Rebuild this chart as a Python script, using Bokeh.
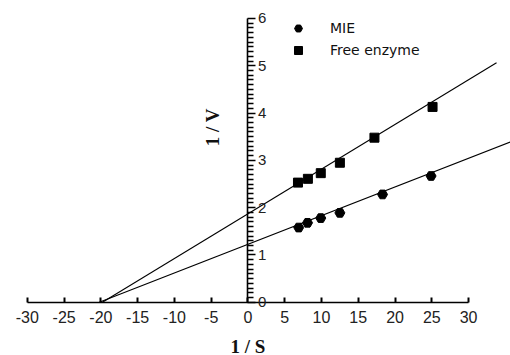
import math
from bokeh.plotting import figure
from bokeh.models import (Range1d, FixedTicker, Legend, LegendItem, Label,
                          LinearAxis)
from bokeh.embed import file_html
from bokeh.resources import INLINE

# ---- data ----
mie_x = [6.9, 8.1, 9.9, 12.5, 18.3, 24.9]
mie_y = [1.58, 1.68, 1.78, 1.89, 2.28, 2.67]
free_x = [6.8, 8.15, 9.9, 12.5, 17.2, 25.1]
free_y = [2.53, 2.61, 2.73, 2.95, 3.48, 4.13]

# linear fits (slope, intercept) and the right end of each fitted line
mie_fit = (0.0606, 1.225)
free_fit = (0.0945, 1.87)
mie_line_end = 35.7
free_line_end = 33.8

x_ticks = [-30, -25, -20, -15, -10, -5, 0, 5, 10, 15, 20, 25, 30]
x_tick_labels = ["-30", "-25", "-20", "-15", "-10", "-5", "0",
                 "5", "10", "15", "20", "25", "30"]
y_ticks = [0, 1, 2, 3, 4, 5, 6]
y_minor_ticks = [i / 10 for i in range(0, 61) if i % 10 != 0]


def fit_line(fit, x_end):
    m, b = fit
    x0 = -b / m
    return [x0, x_end], [m * x0 + b, m * x_end + b]


def tick_axis(ticks, tick_in, tick_out, width):
    ax = LinearAxis(fixed_location=0,
                    ticker=FixedTicker(ticks=ticks, minor_ticks=[]))
    ax.axis_line_alpha = 0
    ax.major_tick_in = tick_in
    ax.major_tick_out = tick_out
    ax.major_tick_line_width = width
    ax.major_tick_line_color = "black"
    ax.minor_tick_line_color = None
    ax.major_label_text_color = None
    return ax


p = figure(width=510, height=355, output_backend="svg", toolbar_location=None,
           x_range=Range1d(-33.65, 35.7), y_range=Range1d(-1.125, 6.38),
           y_axis_location="right")
p.min_border_left = 0
p.min_border_right = 0
p.min_border_top = 0
p.min_border_bottom = 0
p.outline_line_color = None
p.xgrid.visible = False
p.ygrid.visible = False
p.background_fill_color = "white"
p.border_fill_color = "white"

# fitted lines
lx, ly = fit_line(free_fit, free_line_end)
p.line(lx, ly, line_color="black", line_width=1.1)
lx, ly = fit_line(mie_fit, mie_line_end)
p.line(lx, ly, line_color="black", line_width=1.1)

r_mie = p.scatter(mie_x, mie_y, marker="hex", size=10, fill_color="black",
                  line_color="black")
r_free = p.scatter(free_x, free_y, marker="square", size=9, fill_color="black",
                   line_color="black")

# tick marks (separate unlabeled axes crossing at 0)
p.add_layout(tick_axis(x_ticks, 5, 0, 2.0), "below")
p.add_layout(tick_axis(y_ticks, 0, 8, 1.6), "right")
p.add_layout(tick_axis(y_minor_ticks, 0, 6, 1.5), "right")

# x axis, crossing at y = 0: line, labels and title
xa = p.xaxis[0]
xa.fixed_location = 0
xa.ticker = FixedTicker(ticks=x_ticks, minor_ticks=[])
xa.major_label_overrides = dict(zip(x_ticks, x_tick_labels))
xa.bounds = (x_ticks[0], x_ticks[-1])
xa.axis_line_width = 1.6
xa.axis_line_color = "black"
xa.major_tick_line_color = None
xa.minor_tick_line_color = None
xa.major_tick_in = 0
xa.major_tick_out = 0
xa.major_label_standoff = 9
xa.major_label_text_font = "Liberation Sans"
xa.major_label_text_font_size = "16px"
xa.major_label_text_color = "#222222"
xa.axis_label = "1 / S"
xa.axis_label_text_font = "Liberation Serif"
xa.axis_label_text_font_style = "bold"
xa.axis_label_text_font_size = "19px"
xa.axis_label_text_color = "#111111"
xa.axis_label_standoff = 9

# y axis, crossing at x = 0: line and labels
ya = p.yaxis[0]
ya.fixed_location = 0
ya.ticker = FixedTicker(ticks=y_ticks, minor_ticks=[])
ya.bounds = (y_ticks[0], y_ticks[-1])
ya.axis_line_width = 1.6
ya.axis_line_color = "black"
ya.major_tick_line_color = None
ya.minor_tick_line_color = None
ya.major_tick_in = 0
ya.major_tick_out = 8
ya.major_label_standoff = 2
ya.major_label_orientation = "horizontal"
ya.major_label_text_font = "Liberation Sans"
ya.major_label_text_font_size = "15px"
ya.major_label_text_color = "#222222"

p.add_layout(Label(x=-4.8, y=3.7, text="1 / V", angle=math.pi / 2,
                   text_align="center", text_baseline="middle",
                   text_font="Liberation Serif", text_font_style="bold",
                   text_font_size="19px", text_color="#111111"))

legend = Legend(items=[LegendItem(label="MIE", renderers=[r_mie]),
                       LegendItem(label="Free enzyme", renderers=[r_free])],
                location=(288, 295), orientation="vertical")
legend.background_fill_alpha = 0
legend.border_line_color = None
legend.padding = 0
legend.margin = 0
legend.spacing = 2
legend.glyph_width = 20
legend.glyph_height = 20
legend.label_height = 20
legend.label_standoff = 22
legend.label_text_font = "DejaVu Sans"
legend.label_text_font_size = "14px"
legend.label_text_color = "#111111"
p.add_layout(legend, "center")

open("out.html", "w").write(file_html(p, INLINE))
